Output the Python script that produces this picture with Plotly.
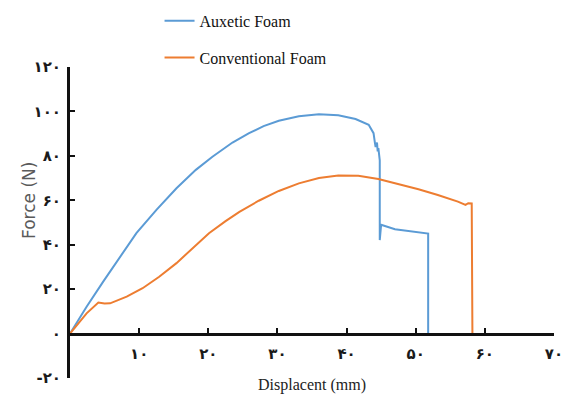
import plotly.graph_objects as go

# ---- data ----
auxetic_x = [0, 2.4, 4.8, 7.2, 9.6, 12.5, 15.4, 18.2, 20.6, 23.5, 25.9, 28.0, 30.2, 33.1,
             36.0, 38.8, 41.3, 43.2, 43.9, 44.1, 44.2, 44.4, 44.5, 44.6, 44.8, 44.8, 45.0,
             45.1, 47.0, 49.9, 51.6, 51.8, 51.8]
auxetic_y = [0, 12.1, 23.4, 34.6, 45.2, 55.7, 65.4, 73.7, 79.6, 86.0, 90.2, 93.4, 95.8, 97.8,
             98.7, 98.3, 96.6, 94.0, 90.2, 85.8, 84.0, 86.0, 82.0, 83.5, 78.0, 42.1, 49.0,
             48.9, 47.0, 45.9, 45.2, 45.0, 0]

conventional_x = [0, 2.4, 4.1, 5.0, 5.8, 8.2, 10.5, 12.9, 15.4, 17.7, 20.1, 22.5, 24.5, 27.3,
                  30.2, 33.1, 36.0, 38.8, 41.7, 44.6, 47.5, 50.4, 53.2, 56.1, 57.2, 57.6, 58.1,
                  58.2]
conventional_y = [0, 9.1, 14.0, 13.5, 13.6, 16.6, 20.4, 25.6, 31.7, 38.4, 45.2, 50.6, 54.8, 59.8,
                  64.2, 67.6, 70.0, 71.2, 71.0, 69.6, 67.3, 65.0, 62.4, 59.4, 57.9, 58.7, 58.6,
                  0]

series_names = ["Auxetic Foam", "Conventional Foam"]

y_tick_vals = [-20, 0, 20, 40, 60, 80, 100, 120]
y_tick_labels = ["-۲۰", "۰", "۲۰", "۴۰", "۶۰", "۸۰", "۱۰۰", "۱۲۰"]
x_tick_vals = [10, 20, 30, 40, 50, 60, 70]
x_tick_labels = ["۱۰", "۲۰", "۳۰", "۴۰", "۵۰", "۶۰", "۷۰"]

x_title = "Displacent (mm)"
y_title = "Force (N)"

BLUE = "#5B9BD5"
ORANGE = "#ED7D31"

fig = go.Figure()
fig.add_trace(go.Scatter(x=auxetic_x, y=auxetic_y, mode="lines", name=series_names[0],
                         line=dict(color=BLUE, width=2), legendgroup="a"))
fig.add_trace(go.Scatter(x=conventional_x, y=conventional_y, mode="lines", name=series_names[1],
                         line=dict(color=ORANGE, width=2), legendgroup="b"))

y_min, y_max = -20, 120
zero_pos = (0 - y_min) / (y_max - y_min)

tick_font = dict(family="DejaVu Sans", size=15, color="#1a1a1a", weight="bold")

fig.update_layout(
    width=562, height=398,
    margin=dict(l=70, r=8, t=67, b=20, autoexpand=False),
    paper_bgcolor="white", plot_bgcolor="white",
    showlegend=True,
    legend=dict(x=0.185, xanchor="left", y=1.203, yanchor="top",
                font=dict(family="Liberation Serif", size=16, color="#111"),
                tracegroupgap=13, bgcolor="rgba(0,0,0,0)"),
    xaxis=dict(range=[0, 70], anchor="free", position=zero_pos,
               showline=True, linecolor="#111", linewidth=3,
               ticks="inside", ticklen=5, tickwidth=2, tickcolor="#111",
               tickvals=x_tick_vals, ticktext=x_tick_labels, tickfont=tick_font,
               ticklabelstandoff=5, ticklabeloverflow="allow",
               showgrid=False, zeroline=False, automargin=False,
               title=dict(text=x_title, standoff=17,
                          font=dict(family="Liberation Serif", size=16, color="#222"))),
    yaxis=dict(range=[y_min, y_max], showline=True, linecolor="#111", linewidth=3,
               ticks="inside", ticklen=5, tickwidth=2, tickcolor="#111",
               tickvals=y_tick_vals, ticktext=y_tick_labels, tickfont=tick_font,
               ticklabelstandoff=3, automargin=False,
               showgrid=False, zeroline=False),
    annotations=[dict(text=y_title, textangle=-90, xref="paper", yref="paper",
                      x=0, xshift=-41, xanchor="center", yanchor="middle",
                      y=(378 - 201) / 311, showarrow=False,
                      font=dict(family="DejaVu Sans", size=17, color="#5a5a5a"))],
)

fig.write_html("out.html", config={"displayModeBar": False},
               post_script="document.body.style.margin='0px';")
